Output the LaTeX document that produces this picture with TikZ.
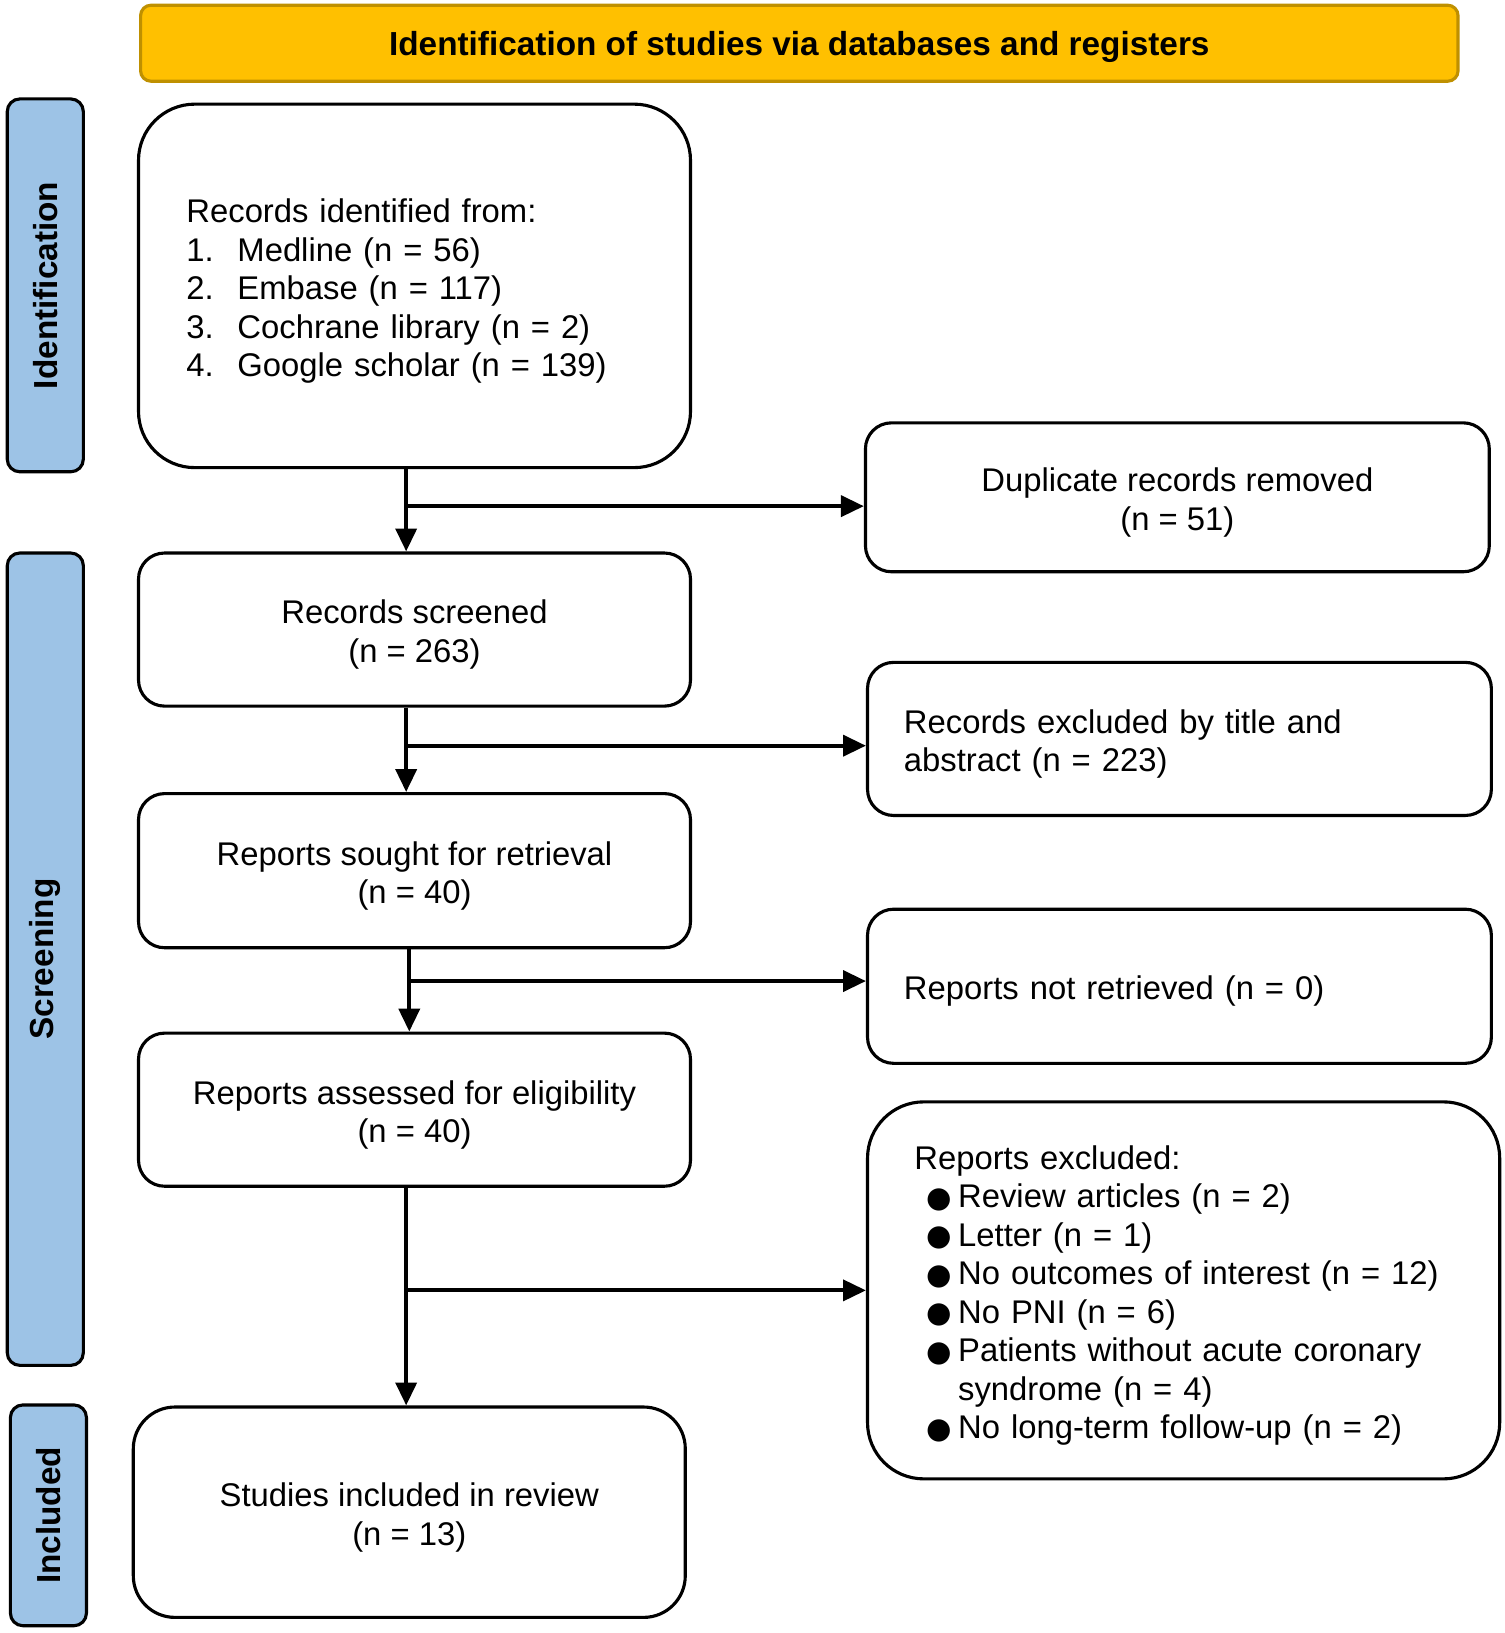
\documentclass[tikz,border=0pt]{standalone}
\usepackage{fontspec}
\setmainfont{Liberation Sans}
\newfontfamily\bulletfont{DejaVu Sans}
\usetikzlibrary{arrows.meta}
\definecolor{bannerfill}{HTML}{FFC000}
\definecolor{bannerdraw}{HTML}{BF9000}
\definecolor{sidefill}{HTML}{9DC3E6}
\newcommand{\pbul}[1]{\hspace*{6pt}\makebox[15pt][l]{\raisebox{0.3pt}{\bulletfont\fontsize{14}{14}\selectfont ●}}#1}
\newcommand{\pnum}[2]{\makebox[24.5pt][l]{#1}#2}
\begin{document}
\begin{tikzpicture}[x=0.5pt,y=-0.5pt,
  txt/.style={font=\fontsize{15.75}{18.5}\selectfont, inner sep=0pt, yshift=-2.5pt},
  box/.style={draw, line width=1.5pt, rounded corners=12.5pt, inner sep=0pt, minimum width=265pt},
  rbox/.style={box, minimum width=299.5pt},
  side/.style={draw, fill=sidefill, line width=1.5pt, rounded corners=6pt, inner sep=0pt, minimum width=36.5pt},
  sidetxt/.style={rotate=90, font=\fontsize{16}{18.5}\selectfont\bfseries},
  arr/.style={line width=2pt, -{Triangle[length=11pt,width=10pt]}}]
\useasboundingbox (0,0) rectangle (1445,1568);
% banner
\node[draw=bannerdraw, fill=bannerfill, line width=1.5pt, rounded corners=5pt,
  minimum width=632.5pt, minimum height=36.5pt, inner sep=0pt] (banner) at (767.5,41.5) {};
\node[inner sep=0pt, yshift=-2pt, font=\fontsize{16}{18.5}\selectfont\bfseries] (bannert) at (banner.center)
  {Identification of studies via databases and registers};
% side labels
\node[side, minimum height=179pt] (sid) at (43.5,274) {};
\node[sidetxt] (sidt) at (sid.center) {Identification};
\node[side, minimum height=390pt] (ssc) at (43.5,921) {};
\node[sidetxt] (ssct) at (ssc.center) {Screening};
\node[side, minimum height=106pt] (sin) at (46.5,1455) {};
\node[sidetxt] (sint) at (sin.center) {Included};
% boxes
\node[box, rounded corners=27pt, minimum height=174.5pt] (ident) at (398,274.5) {};
\node[txt, text width=219pt, align=left] (identt) at (ident.center)
  {Records identified from:\\
   \pnum{1.}{Medline (n = 56)}\\
   \pnum{2.}{Embase (n = 117)}\\
   \pnum{3.}{Cochrane library (n = 2)}\\
   \pnum{4.}{Google scholar (n = 139)}};
\node[rbox, minimum height=71.5pt] (dup) at (1130.5,477.5) {};
\node[txt, align=center] (dupt) at (dup.center) {Duplicate records removed\\(n = 51)};
\node[box, minimum height=73.5pt] (scr) at (398,604.5) {};
\node[txt, align=center] (scrt) at (scr.center) {Records screened\\(n = 263)};
\node[rbox, minimum height=73.5pt] (exta) at (1132.5,709.5) {};
\node[txt, text width=264.5pt, align=left] (extat) at (exta.center)
  {Records excluded by title and\\abstract (n = 223)};
\node[box, minimum height=74pt] (sought) at (398,836) {};
\node[txt, align=center] (soughtt) at (sought.center) {Reports sought for retrieval\\(n = 40)};
\node[rbox, minimum height=74pt] (notret) at (1132.5,947) {};
\node[txt, text width=264.5pt, align=left] (notrett) at (notret.center) {Reports not retrieved (n = 0)};
\node[box, minimum height=73.5pt] (assess) at (398,1065.5) {};
\node[txt, align=center] (assesst) at (assess.center) {Reports assessed for eligibility\\(n = 40)};
\node[box, rounded corners=27pt, minimum width=303.5pt, minimum height=181pt] (repex) at (1136.5,1239) {};
\node[txt, text width=258.5pt, align=left] (repext) at (repex.center)
  {Reports excluded:\\
   \pbul{Review articles (n = 2)}\\
   \pbul{Letter (n = 1)}\\
   \pbul{No outcomes of interest (n = 12)}\\
   \pbul{No PNI (n = 6)}\\
   \pbul{Patients without acute coronary}\\
   \hspace*{21pt}syndrome (n = 4)\\
   \pbul{No long-term follow-up (n = 2)}};
\node[box, rounded corners=20pt, minimum height=101pt] (incl) at (393,1452) {};
\node[txt, align=center] (inclt) at (incl.center) {Studies included in review\\(n = 13)};
% connectors
\coordinate (j1) at (390,486);
\coordinate (j2) at (390,716);
\coordinate (j3) at (393,942);
\coordinate (j4) at (390,1239);
\draw[arr] (ident.south -| j1) -- (scr.north -| j1);
\draw[arr] (j1) -- (j1 -| dup.west);
\draw[arr] (scr.south -| j2) -- (sought.north -| j2);
\draw[arr] (j2) -- (j2 -| exta.west);
\draw[arr] (sought.south -| j3) -- (assess.north -| j3);
\draw[arr] (j3) -- (j3 -| notret.west);
\draw[arr] (assess.south -| j4) -- (incl.north -| j4);
\draw[arr] (j4) -- (j4 -| repex.west);
\end{tikzpicture}
\end{document}
